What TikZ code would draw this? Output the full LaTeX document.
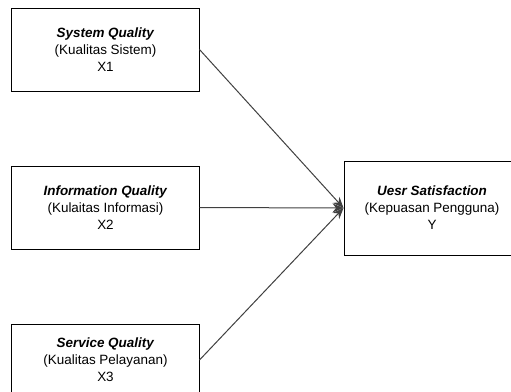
\documentclass[tikz,border=0pt]{standalone}
\usepackage{fontspec}
\setmainfont{Liberation Sans}
\usepackage{tikz}
\usetikzlibrary{arrows.meta}

\tikzset{
	varbox/.style={draw=black, line width=1bp, inner sep=0pt, align=center,
		minimum width=187bp, minimum height=83bp,
		font=\fontsize{13.5}{17}\selectfont},
	path/.style={draw=black!75, line width=1bp, -{Stealth[length=11bp,width=9bp]}}
}

\begin{document}
\begin{tikzpicture}[x=1bp,y=-1bp]
	\useasboundingbox (0,0) rectangle (511,391);
	% independent variables
	\node[varbox] (x1) at (105.5,49.5) {\textbf{\textit{System Quality}}\\(Kualitas Sistem)\\X1};
	\node[varbox] (x2) at (105.5,207.5) {\textbf{\textit{Information Quality}}\\(Kulaitas Informasi)\\X2};
	\node[varbox, minimum height=72bp] (x3) at (105.5,360) {\textbf{\textit{Service Quality}}\\(Kualitas Pelayanan)\\X3};
	% dependent variable
	\node[varbox, minimum width=176bp, minimum height=94bp] (y) at (432,208) {\textbf{\textit{Uesr Satisfaction}}\\(Kepuasan Pengguna)\\Y};
	\draw[path] (x1.east) -- (y.west);
	\draw[path] (x2.east) -- (y.west);
	\draw[path] (x3.east) -- (y.west);
\end{tikzpicture}
\end{document}
